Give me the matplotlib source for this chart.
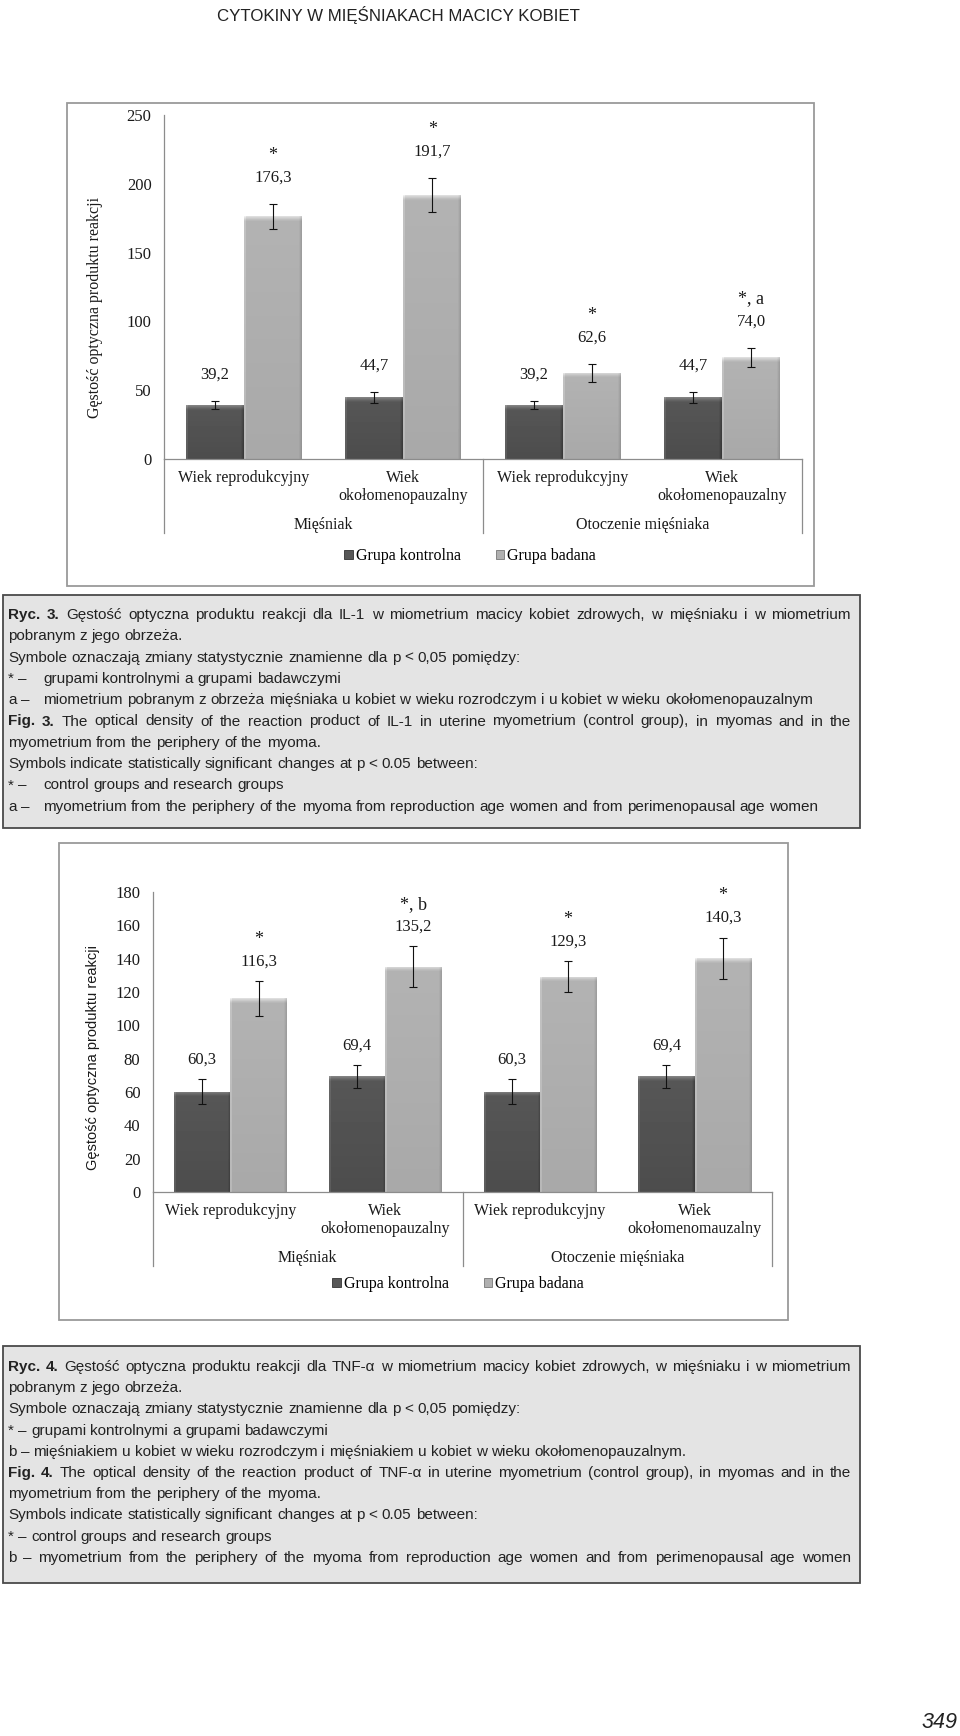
import numpy as np
import matplotlib
matplotlib.use('Agg')
import matplotlib.pyplot as plt
from matplotlib import font_manager
from matplotlib.patches import Rectangle, Patch

W, H = 960, 1736

# ---- data
series = ['Grupa kontrolna', 'Grupa badana']
groups = ['Mięśniak', 'Otoczenie mięśniaka']
il1_categories = ['Wiek reprodukcyjny', 'Wiek\nokołomenopauzalny',
                  'Wiek reprodukcyjny', 'Wiek\nokołomenopauzalny']
tnf_categories = ['Wiek reprodukcyjny', 'Wiek\nokołomenopauzalny',
                  'Wiek reprodukcyjny', 'Wiek\nokołomenomauzalny']

il1_control = [39.2, 44.7, 39.2, 44.7]
il1_control_err = [3.0, 3.7, 3.0, 3.7]
il1_research = [176.3, 191.7, 62.6, 74.0]
il1_research_err = [9.1, 12.4, 6.7, 7.0]
il1_marks = ['*', '*', '*', '*, a']

tnf_control = [60.3, 69.4, 60.3, 69.4]
tnf_control_err = [7.3, 6.8, 7.3, 6.8]
tnf_research = [116.3, 135.2, 129.3, 140.3]
tnf_research_err = [10.5, 12.4, 9.4, 12.4]
tnf_marks = ['*', '*, b', '*', '*']

ylabel = 'Gęstość optyczna produktu reakcji'
header = 'CYTOKINY W MIĘŚNIAKACH MACICY KOBIET'
page_number = '349'

caption3 = [
    'Ryc. 3. Gęstość optyczna produktu reakcji dla IL-1 w miometrium macicy kobiet zdrowych, w mięśniaku i w miometrium',
    'pobranym z jego obrzeża.',
    'Symbole oznaczają zmiany statystycznie znamienne dla p < 0,05 pomiędzy:',
    '* –\tgrupami kontrolnymi a grupami badawczymi',
    'a –\tmiometrium pobranym z obrzeża mięśniaka u kobiet w wieku rozrodczym i u kobiet w wieku okołomenopauzalnym',
    'Fig. 3. The optical density of the reaction product of IL-1 in uterine myometrium (control group), in myomas and in the',
    'myometrium from the periphery of the myoma.',
    'Symbols indicate statistically significant changes at p < 0.05 between:',
    '* –\tcontrol groups and research groups',
    'a –\tmyometrium from the periphery of the myoma from reproduction age women and from perimenopausal age women',
]
caption3_justified = [True, False, False, False, False, True, False, False, False, False]

caption4 = [
    'Ryc. 4. Gęstość optyczna produktu reakcji dla TNF-α w miometrium macicy kobiet zdrowych, w mięśniaku i w miometrium',
    'pobranym z jego obrzeża.',
    'Symbole oznaczają zmiany statystycznie znamienne dla p < 0,05 pomiędzy:',
    '* – grupami kontrolnymi a grupami badawczymi',
    'b – mięśniakiem u kobiet w wieku rozrodczym i mięśniakiem u kobiet w wieku okołomenopauzalnym.',
    'Fig. 4. The optical density of the reaction product of TNF-α in uterine myometrium (control group), in myomas and in the',
    'myometrium from the periphery of the myoma.',
    'Symbols indicate statistically significant changes at p < 0.05 between:',
    '* – control groups and research groups',
    'b – myometrium from the periphery of the myoma from reproduction age women and from perimenopausal age women',
]
caption4_justified = [True, False, False, False, False, True, False, False, False, True]

# ---- fonts
names = set(font_manager.get_font_names())
CAP_FONT = next((f for f in ['Liberation Sans Narrow', 'Arial Narrow'] if f in names), 'Liberation Sans')
CAP_FS = 12 if 'Narrow' in CAP_FONT else 11
SERIF = 'Liberation Serif'
plt.rcParams['font.family'] = SERIF
TXT = '#1a1a1a'
AXIS = '#8c8c8c'
DARK = '#575757'
LIGHT = '#b0b0b0'

fig = plt.figure(figsize=(W / 100, H / 100), dpi=100)
page = fig.add_axes([0, 0, 1, 1])
page.set_xlim(0, W)
page.set_ylim(H, 0)
page.axis('off')


def px_axes(x0, y0, x1, y1):
    ''' Axes placed by page pixels (top-left origin) '''
    return fig.add_axes([x0 / W, 1 - y1 / H, (x1 - x0) / W, (y1 - y0) / H])


def shade(ax, bars, base, ppu, bar_px):
    ''' Excel-like bevel: gradient image clipped to each bar '''
    for b in bars:
        x0, w, h = b.get_x(), b.get_width(), b.get_height()
        rows = max(int(round(h * ppu)), 6)
        cols = max(int(round(bar_px)), 6)
        grid = np.full((rows, cols), base)
        grid += np.linspace(0.02, -0.02, rows)[:, None]
        grid[:, :2] += 0.06
        grid[:, -3:] -= np.array([0.02, 0.05, 0.08])
        grid[:5, :] += np.array([0.17, 0.13, 0.09, 0.05, 0.02])[:, None]
        grid = np.clip(grid, 0, 1)
        im = ax.imshow(grid, extent=(x0, x0 + w, 0, h), origin='upper', cmap='gray',
                       vmin=0, vmax=1, aspect='auto', interpolation='nearest', zorder=2)
        im.set_clip_path(b)


def draw_chart(frame, box, ymax, ystep, ctrl, ctrl_err, res, res_err, marks, cats,
               ylab_xy, ylab_font, ylab_fs, num_off, legend_xy):
    fx0, fy0, fx1, fy1 = frame
    page.add_patch(Rectangle((fx0, fy0), fx1 - fx0, fy1 - fy0, fc='white', ec='#9a9a9a', lw=1.3))
    ax = px_axes(*box)
    ax.patch.set_alpha(0)
    ax_h = box[3] - box[1]
    ppu = ax_h / ymax

    x = np.arange(len(cats))
    w = 1 / 2.75
    bar_px = w * (box[2] - box[0]) / len(cats)
    b1 = ax.bar(x - w / 2, ctrl, w, color=DARK, zorder=1)
    b2 = ax.bar(x + w / 2, res, w, color=LIGHT, zorder=1)
    shade(ax, b1, 0.32, ppu, bar_px)
    shade(ax, b2, 0.68, ppu, bar_px)
    ax.errorbar(x - w / 2, ctrl, yerr=ctrl_err, fmt='none', ecolor='#111', elinewidth=0.8,
                capsize=3, capthick=0.8, zorder=3)
    ax.errorbar(x + w / 2, res, yerr=res_err, fmt='none', ecolor='#111', elinewidth=0.8,
                capsize=3, capthick=0.8, zorder=3)

    ax.set_xlim(-0.5, len(cats) - 0.5)
    ax.set_ylim(0, ymax)
    ax.set_yticks(np.arange(0, ymax + 1, ystep))
    ax.set_xticks(x)
    ax.set_xticklabels(cats, fontsize=11.5, color=TXT, linespacing=1.15)
    ax.tick_params(axis='y', length=0, pad=9, labelsize=12, labelcolor=TXT)
    ax.tick_params(axis='x', length=0, pad=8)
    for s in ['top', 'right']:
        ax.spines[s].set_visible(False)
    for s in ['left', 'bottom']:
        ax.spines[s].set_color(AXIS)
        ax.spines[s].set_linewidth(0.9)

    # category group separators and group names
    trans = ax.get_xaxis_transform()
    for xd in [-0.5, 1.5, 3.5]:
        ax.plot([xd, xd], [0, -74 / ax_h], transform=trans, clip_on=False, color=AXIS, lw=0.9)
    for i, g in enumerate(groups):
        ax.text(2 * i + 0.5, -66 / ax_h, g, transform=trans, ha='center', va='center',
                fontsize=11.5, color=TXT)

    # value labels and significance marks
    fmt = lambda v: f'{v:.1f}'.replace('.', ',')
    for xs, vals, errs in [(x - w / 2, ctrl, ctrl_err), (x + w / 2, res, res_err)]:
        for xi, v, e in zip(xs, vals, errs):
            ax.annotate(fmt(v), (xi, v + e), xytext=(0, num_off), textcoords='offset points',
                        ha='center', va='center', fontsize=12, color=TXT)
    for xi, v, e, m in zip(x + w / 2, res, res_err, marks):
        ax.annotate(m, (xi, v + e), xytext=(0, num_off + 16), textcoords='offset points',
                    ha='center', va='center', fontsize=13, color=TXT)

    page.text(ylab_xy[0], ylab_xy[1], ylabel, rotation=90, ha='center', va='center',
              family=ylab_font, fontsize=ylab_fs, color=TXT)
    handles = [Patch(fc=DARK, ec='#333333', lw=0.6), Patch(fc=LIGHT, ec='#777777', lw=0.6)]
    fig.legend(handles, series, loc='center', bbox_to_anchor=(legend_xy[0] / W, 1 - legend_xy[1] / H),
               ncol=2, frameon=False, prop={'family': SERIF, 'size': 11.5},
               handlelength=0.55, handleheight=0.55, handletextpad=0.15, columnspacing=2.2)
    return ax


def put_words(y, words, x0, x1=None, bold=0):
    ''' Place words on a line; spread them to x1 when justified '''
    texts = [page.text(x0, y, wd, family=CAP_FONT, fontsize=CAP_FS, color='#222222',
                       weight='bold' if i < bold else 'normal', ha='left', va='center')
             for i, wd in enumerate(words)]
    r = fig.canvas.get_renderer()
    widths = [t.get_window_extent(r).width for t in texts]
    gap = 0.28 * CAP_FS * 100 / 72
    if x1 is not None and len(words) > 1:
        gap = (x1 - x0 - sum(widths)) / (len(words) - 1)
    pos = x0
    for t, wd in zip(texts, widths):
        t.set_x(pos)
        pos += wd + gap


def draw_caption(box, lines, justified, first_y, step, hang):
    x0, y0, x1, y1 = box
    page.add_patch(Rectangle((x0, y0), x1 - x0, y1 - y0, fc='#e4e4e4', ec='#4a4a4a', lw=1.3))
    left, right = x0 + 5, x1 - 9
    for i, (line, just) in enumerate(zip(lines, justified)):
        y = first_y + i * step
        if '\t' in line:
            pre, rest = line.split('\t')
            put_words(y, pre.split(' '), left)
            put_words(y, rest.split(' '), hang)
            continue
        bold = 2 if line.startswith(('Ryc.', 'Fig.')) else 0
        put_words(y, line.split(' '), left, right if just else None, bold)


# ---- page header and number
t = page.text(217, 15, header, family=CAP_FONT, fontsize=12, color='#222222', ha='left', va='center')
r = fig.canvas.get_renderer()
t.set_fontsize(12 * 363 / t.get_window_extent(r).width)
page.text(958, 1722, page_number, family='Liberation Sans', style='italic', fontsize=15.5,
          color='#222222', ha='right', va='center')

# ---- Fig. 3 (IL-1)
draw_chart((67, 103, 814, 586), (164, 115, 802, 459), 250, 50,
           il1_control, il1_control_err, il1_research, il1_research_err, il1_marks, il1_categories,
           (95, 307), SERIF, 11.5, 19, (470, 556))
draw_caption((3, 595, 860, 828), caption3, caption3_justified, 615, 21.3, 43)

# ---- Fig. 4 (TNF-alpha)
draw_chart((59, 843, 788, 1320), (153, 892, 772, 1192), 180, 20,
           tnf_control, tnf_control_err, tnf_research, tnf_research_err, tnf_marks, tnf_categories,
           (93, 1058), 'Liberation Sans', 10.5, 14, (458, 1284))
draw_caption((3, 1346, 860, 1583), caption4, caption4_justified, 1367, 21.2, 43)

fig.savefig('out.png', dpi=100)
